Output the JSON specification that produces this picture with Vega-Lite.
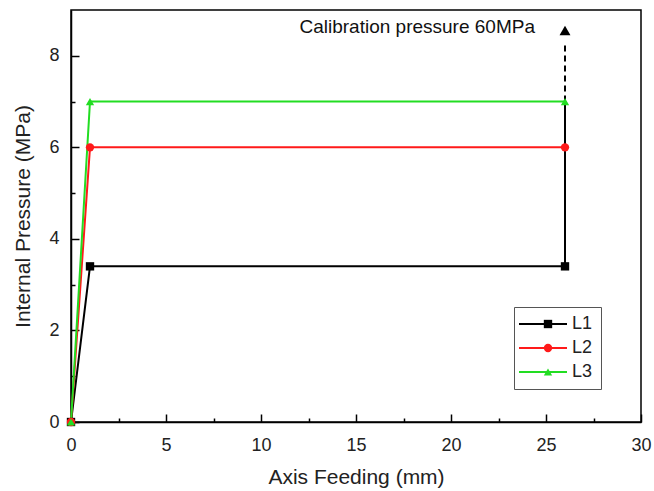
{
  "$schema": "https://vega.github.io/schema/vega-lite/v6.json",
  "width": 570,
  "height": 412,
  "autosize": {"type": "none"},
  "padding": {"left": 71, "top": 10, "right": 13, "bottom": 69},
  "config": {
    "view": {"stroke": "black", "strokeWidth": 1.5},
    "font": "Liberation Sans",
    "axis": {
      "domainColor": "black", "domainWidth": 1.5, "tickColor": "black", "tickWidth": 1.5,
      "labelColor": "#222", "titleColor": "#222", "labelFontSize": 18, "titleFontSize": 21,
      "titleFontWeight": "normal", "grid": false, "labelFlush": false
    }
  },
  "datasets": {
    "series": [
      {"x": 0, "y": 0, "s": "L1"}, {"x": 1, "y": 3.4, "s": "L1"}, {"x": 26, "y": 3.4, "s": "L1"},
      {"x": 0, "y": 0, "s": "L2"}, {"x": 1, "y": 6, "s": "L2"}, {"x": 26, "y": 6, "s": "L2"},
      {"x": 0, "y": 0, "s": "L3"}, {"x": 1, "y": 7, "s": "L3"}, {"x": 26, "y": 7, "s": "L3"}
    ]
  },
  "layer": [
    {
      "data": {"values": [{"x": 26, "y": 3.4, "y2": 7}]},
      "mark": {"type": "rule", "color": "black", "strokeWidth": 2},
      "encoding": {
        "x": {"field": "x", "type": "quantitative"},
        "y": {"field": "y", "type": "quantitative"},
        "y2": {"field": "y2"}
      }
    },
    {
      "data": {"values": [{"x": 26, "y": 7, "y2": 8.3}]},
      "mark": {"type": "rule", "color": "black", "strokeWidth": 2, "strokeDash": [6, 4]},
      "encoding": {
        "x": {"field": "x", "type": "quantitative"},
        "y": {"field": "y", "type": "quantitative"},
        "y2": {"field": "y2"}
      }
    },
    {
      "data": {"values": [{"x": 26, "y": 8.55}]},
      "mark": {"type": "point", "shape": "triangle-up", "filled": true, "color": "black", "size": 120, "opacity": 1},
      "encoding": {
        "x": {"field": "x", "type": "quantitative"},
        "y": {"field": "y", "type": "quantitative"}
      }
    },
    {
      "data": {"values": [{"x": 24.42, "y": 8.5, "t": "Calibration pressure 60MPa"}]},
      "mark": {"type": "text", "align": "right", "baseline": "alphabetic", "fontSize": 19, "color": "#111"},
      "encoding": {
        "x": {"field": "x", "type": "quantitative"},
        "y": {"field": "y", "type": "quantitative"},
        "text": {"field": "t"}
      }
    },
    {
      "data": {"name": "series"},
      "mark": {"type": "line", "strokeWidth": 2},
      "encoding": {
        "x": {
          "field": "x", "type": "quantitative",
          "scale": {"domain": [0, 30], "nice": false},
          "axis": {
            "title": "Axis Feeding (mm)",
            "values": [0, 2.5, 5, 7.5, 10, 12.5, 15, 17.5, 20, 22.5, 25, 27.5, 30],
            "labelExpr": "datum.value % 5 === 0 ? datum.label : ''",
            "tickSize": {"condition": {"test": "datum.value % 5 === 0", "value": -8}, "value": -4},
            "labelPadding": 22,
            "titlePadding": 12
          }
        },
        "y": {
          "field": "y", "type": "quantitative",
          "scale": {"domain": [0, 9], "nice": false},
          "axis": {
            "title": "Internal Pressure (MPa)",
            "values": [0, 1, 2, 3, 4, 5, 6, 7, 8],
            "labelExpr": "datum.value % 2 === 0 ? datum.label : ''",
            "tickSize": {"condition": {"test": "datum.value % 2 === 0", "value": -8}, "value": -4},
            "labelPadding": 20,
            "titlePadding": 15
          }
        },
        "color": {
          "field": "s", "type": "nominal",
          "scale": {"domain": ["L1", "L2", "L3"], "range": ["#000000", "#ff1a1a", "#22dd22"]},
          "legend": {
            "title": null, "orient": "none", "legendX": 443, "legendY": 297,
            "symbolType": "M-1.5,0H4.5", "symbolSize": 256, "symbolStrokeWidth": 2,
            "labelFontSize": 18, "labelColor": "#222", "labelOffset": 32, "rowPadding": 6,
            "padding": 8, "strokeColor": "#555"
          }
        }
      }
    },
    {
      "data": {"name": "series"},
      "mark": {"type": "point", "filled": true, "opacity": 1, "size": 70},
      "encoding": {
        "x": {"field": "x", "type": "quantitative"},
        "y": {"field": "y", "type": "quantitative"},
        "shape": {
          "field": "s", "type": "nominal",
          "scale": {"domain": ["L1", "L2", "L3"], "range": ["square", "circle", "triangle-up"]}
        },
        "color": {
          "field": "s", "type": "nominal",
          "scale": {"domain": ["L1", "L2", "L3"], "range": ["#000000", "#ff1a1a", "#22dd22"]},
          "legend": {
            "title": null, "orient": "none", "legendX": 460, "legendY": 297,
            "symbolSize": 70, "symbolOpacity": 1, "symbolStrokeWidth": 0,
            "labelFontSize": 18, "labelExpr": "''", "labelOffset": 5, "rowPadding": 6,
            "padding": 8
          }
        }
      }
    }
  ],
  "resolve": {"scale": {"color": "independent", "shape": "independent"}}
}
